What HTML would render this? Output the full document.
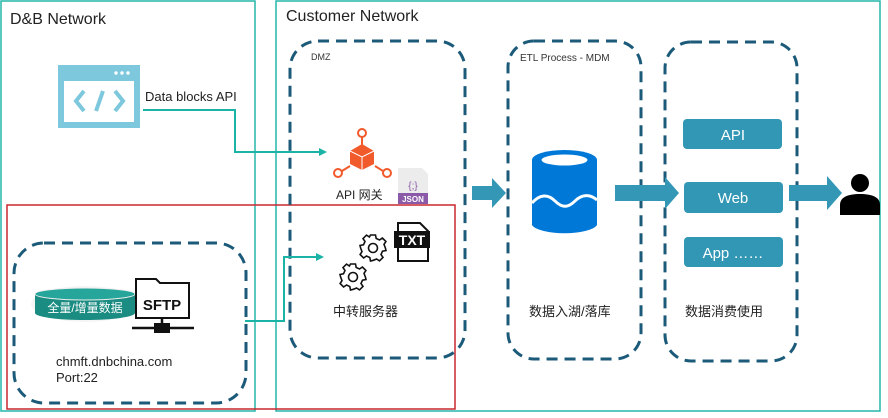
<!DOCTYPE html>
<html><head><meta charset="utf-8"><style>
body{margin:0;width:888px;height:413px;background:#fff;overflow:hidden;font-family:"Liberation Sans","Noto Sans CJK SC",sans-serif;}
svg text{font-family:"Liberation Sans","Noto Sans CJK SC",sans-serif;}
</style></head><body>
<svg width="888" height="413" viewBox="0 0 888 413" xmlns="http://www.w3.org/2000/svg">
<defs>
<marker id="ta" markerWidth="8" markerHeight="8" refX="6" refY="4" orient="auto" markerUnits="userSpaceOnUse"><path d="M0,0L8,4L0,8z" fill="#1ab3a6"/></marker>
<path id="gear" d="M-2.5,-13L2.5,-13L3.2,-9.5L6.5,-8L9.4,-10L12.9,-6.5L11,-3.6L12.3,-0.3L13,2.5L9.5,3.2L8,6.5L10,9.4L6.5,12.9L3.6,11L0.3,12.3L-2.5,13L-3.2,9.5L-6.5,8L-9.4,10L-12.9,6.5L-11,3.6L-12.3,0.3L-13,-2.5L-9.5,-3.2L-8,-6.5L-10,-9.4L-6.5,-12.9L-3.6,-11Z"/>
</defs>
<rect x="1" y="1" width="254" height="410" fill="none" stroke="#25b5aa" stroke-width="1.5"/>
<rect x="276" y="1" width="604" height="410" fill="none" stroke="#25b5aa" stroke-width="1.5"/>
<rect x="7" y="205" width="448" height="204" fill="none" stroke="#c8282e" stroke-width="1.5"/>
<text x="10" y="24" font-size="16" fill="#222">D&amp;B Network</text>
<text x="286" y="21" font-size="16" fill="#222">Customer Network</text>
<g fill="none" stroke="#1c5a79" stroke-width="3" stroke-dasharray="11,7">
<rect x="290" y="41" width="175" height="317" rx="28"/>
<rect x="508" y="41" width="133" height="318" rx="26"/>
<rect x="665" y="42" width="132" height="319" rx="26"/>
<rect x="14" y="243" width="232" height="160" rx="30"/>
</g>
<text x="311" y="60" font-size="9" fill="#333">DMZ</text>
<text x="520" y="61" font-size="10" fill="#333">ETL Process - MDM</text>
<rect x="58" y="65" width="82" height="63" fill="#7ec8de"/>
<rect x="64" y="81" width="70" height="41" fill="#fff"/>
<circle cx="116" cy="73" r="1.7" fill="#fff"/><circle cx="122" cy="73" r="1.7" fill="#fff"/><circle cx="128" cy="73" r="1.7" fill="#fff"/>
<path d="M84,91L76,101L84,111M96,111L103,91M115,91L123,101L115,111" stroke="#7ec8de" stroke-width="4" fill="none"/>
<text x="145" y="101" font-size="13" fill="#222">Data blocks API</text>
<path d="M143,110H235V152H325" fill="none" stroke="#1ab3a6" stroke-width="2" marker-end="url(#ta)"/>
<path d="M245,321H284V257H322" fill="none" stroke="#1ab3a6" stroke-width="2" marker-end="url(#ta)"/>
<g stroke="#f15a2b" stroke-width="2" fill="none">
<circle cx="362" cy="133" r="4"/><circle cx="338" cy="173" r="4"/><circle cx="387" cy="173" r="4"/>
<path d="M362,137V145M342,171L350,166M383,171L375,166"/>
</g>
<path d="M362,144L374,151V164L362,170L350,164V151Z" fill="#f15a2b"/>
<path d="M350,151L362,157L374,151M362,157V170" stroke="#fff" stroke-width="1" fill="none"/>
<text x="336" y="199" font-size="12" fill="#222">API 网关</text>
<path d="M398,168H422L428,174V203H398Z" fill="#ececec"/>
<rect x="398" y="193" width="30" height="11" fill="#8a5aa8"/>
<text x="413" y="189" font-size="10" fill="#8a5aa8" text-anchor="middle">{;}</text>
<text x="413" y="202" font-size="8" fill="#fff" font-weight="bold" text-anchor="middle">JSON</text>
<g fill="#fff" stroke="#111" stroke-width="1.6">
<use href="#gear" transform="translate(373,248)"/>
<use href="#gear" transform="translate(353,277)"/>
<circle cx="373" cy="248" r="4.5"/><circle cx="353" cy="277" r="4.5"/>
</g>
<path d="M398,223H420L428,231V261H398Z" fill="#fff" stroke="#111" stroke-width="2"/>
<rect x="394" y="231" width="36" height="17" fill="#111"/>
<text x="412" y="245" font-size="14" font-weight="bold" fill="#fff" text-anchor="middle">TXT</text>
<text x="333" y="316" font-size="13" fill="#222">中转服务器</text>
<path d="M472,186H492V178L506,193L492,208V200H472Z" fill="#3397b5"/>
<path d="M615,185H665V177L679,193L665,209V201H615Z" fill="#3397b5"/>
<path d="M789,185H827V176L842,193L827,210V201H789Z" fill="#3397b5"/>
<path d="M532,160V225A33,10 0 0 0 597,225V160Z" fill="#0078d7"/>
<ellipse cx="564.5" cy="160" rx="32.5" ry="10" fill="#0078d7"/>
<ellipse cx="564.5" cy="160" rx="23" ry="5.5" fill="#fff"/>
<path d="M532,203C540,194 548,194 555,201C562,208 568,208 575,201C582,194 590,194 597,200" stroke="#fff" stroke-width="3" fill="none"/>
<text x="529" y="316" font-size="13" fill="#222">数据入湖/落库</text>
<rect x="683" y="119" width="99" height="30" rx="4" fill="#3297b5"/>
<rect x="684" y="182" width="99" height="31" rx="4" fill="#3297b5"/>
<rect x="684" y="237" width="99" height="30" rx="4" fill="#3297b5"/>
<text x="733" y="140" font-size="15" fill="#fff" text-anchor="middle">API</text>
<text x="733" y="203" font-size="15" fill="#fff" text-anchor="middle">Web</text>
<text x="733" y="258" font-size="15" fill="#fff" text-anchor="middle">App ……</text>
<text x="685" y="316" font-size="13" fill="#222">数据消费使用</text>
<circle cx="860" cy="183" r="9" fill="#000"/>
<path d="M840,215V205C840,197 848,194 860,194C872,194 880,197 880,205V215Z" fill="#000"/>
<ellipse cx="85" cy="304" rx="54" ry="18" fill="#eee" opacity="0.6"/>
<path d="M35,294V313A50,7 0 0 0 135,313V294Z" fill="#1b8c82"/>
<ellipse cx="85" cy="294" rx="50" ry="6" fill="#26a69a" stroke="#eee"/>
<text x="85" y="312" font-size="12" fill="#fff" text-anchor="middle">全量/增量数据</text>
<path d="M136,279H156L160,283H189V318H136Z" fill="#fff" stroke="#111" stroke-width="2"/>
<text x="162" y="310" font-size="15" font-weight="bold" fill="#111" text-anchor="middle">SFTP</text>
<path d="M162,318V326M132,328H194" stroke="#111" stroke-width="2.5"/>
<rect x="154" y="323" width="16" height="10" fill="#111"/>
<text x="56" y="366" font-size="13" fill="#222">chmft.dnbchina.com</text>
<text x="56" y="382" font-size="13" fill="#222">Port:22</text>
</svg>
</body></html>
